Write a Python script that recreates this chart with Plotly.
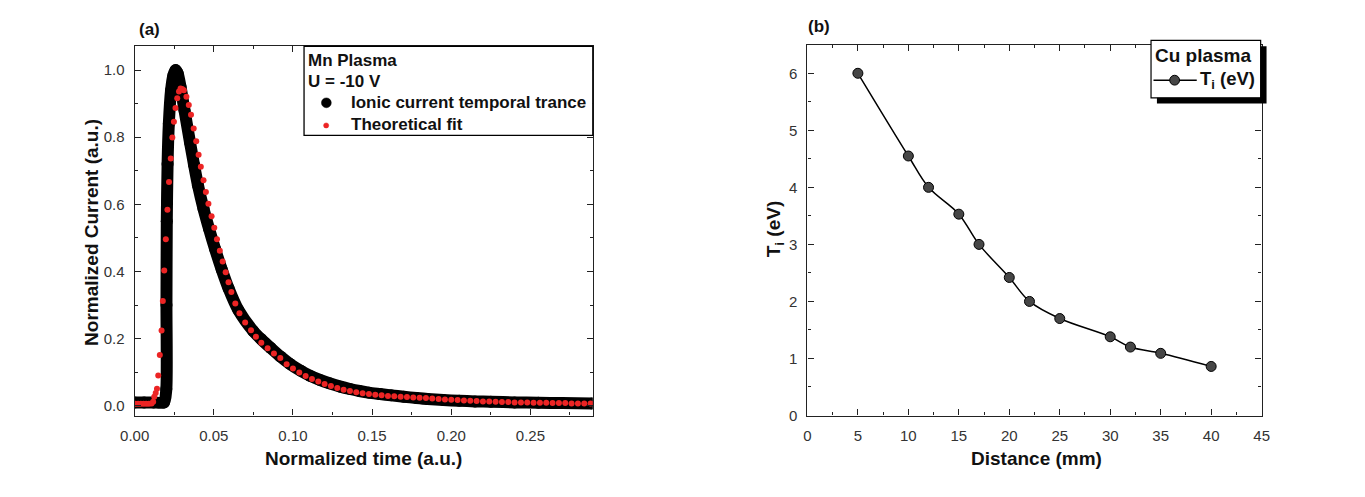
import plotly.graph_objects as go

# ---------------- data ----------------
# Panel (a): ionic current temporal trace (dense black band, centre line)
ion_t = [0.000, 0.006, 0.012, 0.0185, 0.0200, 0.0201, 0.0203, 0.0208, 0.0216, 0.0230,
         0.0245, 0.0258, 0.0272, 0.0290, 0.0315, 0.0350, 0.0375, 0.0400, 0.0435, 0.0470,
         0.0508, 0.0550, 0.0593, 0.0655, 0.0750, 0.0800, 0.0860, 0.0920, 0.0980,
         0.1050, 0.1110, 0.1170, 0.1230, 0.1300, 0.1360, 0.1420, 0.1480, 0.1550, 0.1620,
         0.1700, 0.1780, 0.1850, 0.1950, 0.2050, 0.2150, 0.2250, 0.2400, 0.2550, 0.2700,
         0.2890]
ion_i = [0.010, 0.010, 0.010, 0.010, 0.050, 0.300, 0.550, 0.720, 0.840, 0.940,
         0.985, 1.000, 0.990, 0.950, 0.880, 0.784, 0.718, 0.657, 0.587, 0.527,
         0.467, 0.406, 0.350, 0.285, 0.222, 0.198, 0.172, 0.147, 0.125,
         0.104, 0.089, 0.077, 0.067, 0.057, 0.050, 0.044, 0.039, 0.035, 0.031,
         0.027, 0.023, 0.020, 0.017, 0.015, 0.013, 0.012, 0.010, 0.009, 0.008,
         0.007]

# Panel (a): theoretical fit (red dots)
fit_t = [0.0005, 0.0022, 0.0039, 0.0056, 0.0073, 0.0090, 0.0107, 0.0117, 0.0124, 0.0133,
         0.0141, 0.0149, 0.0159, 0.0170, 0.0178, 0.0187, 0.0197, 0.0207, 0.0217, 0.0228,
         0.0238, 0.0248, 0.0258, 0.0269, 0.0280, 0.0290, 0.0300, 0.0311, 0.0327, 0.0342,
         0.0356, 0.0373, 0.0389, 0.0404, 0.0418, 0.0435, 0.0450, 0.0466, 0.0486, 0.0503,
         0.0520, 0.0538, 0.0556, 0.0575, 0.0593, 0.0611, 0.0636, 0.0662, 0.0698, 0.0735,
         0.0766, 0.080, 0.084, 0.088, 0.092, 0.096, 0.100, 0.104, 0.108, 0.112,
         0.116, 0.120, 0.124, 0.128, 0.132, 0.136, 0.140, 0.144, 0.148, 0.152,
         0.156, 0.160, 0.164, 0.168, 0.172, 0.176, 0.180, 0.184, 0.188, 0.192,
         0.196, 0.200, 0.204, 0.208, 0.212, 0.216, 0.220, 0.224, 0.228, 0.232,
         0.236, 0.240, 0.244, 0.248, 0.252, 0.256, 0.260, 0.264, 0.268, 0.272,
         0.276, 0.280, 0.284, 0.288]
fit_i = [0.006, 0.006, 0.006, 0.006, 0.006, 0.006, 0.007, 0.012, 0.027, 0.038,
         0.051, 0.090, 0.151, 0.224, 0.312, 0.403, 0.496, 0.584, 0.667, 0.737,
         0.799, 0.846, 0.887, 0.916, 0.936, 0.945, 0.944, 0.940, 0.921, 0.896,
         0.867, 0.826, 0.788, 0.748, 0.712, 0.672, 0.637, 0.602, 0.565, 0.530,
         0.496, 0.462, 0.430, 0.398, 0.368, 0.339, 0.305, 0.276, 0.248, 0.225,
         0.206, 0.188, 0.171, 0.156, 0.142, 0.124, 0.111, 0.099, 0.089, 0.080,
         0.072, 0.065, 0.059, 0.053, 0.048, 0.044, 0.040, 0.037, 0.035, 0.033,
         0.031, 0.029, 0.028, 0.027, 0.026, 0.025, 0.024, 0.023, 0.022, 0.020,
         0.019, 0.018, 0.017, 0.016, 0.015, 0.014, 0.013, 0.013, 0.012, 0.011,
         0.011, 0.010, 0.010, 0.010, 0.009, 0.009, 0.009, 0.008, 0.008, 0.008,
         0.007, 0.007, 0.007, 0.007]

# Panel (b): ion temperature vs distance, Cu plasma
dist_mm = [5, 10, 12, 15, 17, 20, 22, 25, 30, 32, 35, 40]
ti_ev = [6.0, 4.55, 4.0, 3.53, 3.0, 2.42, 2.0, 1.7, 1.38, 1.2, 1.09, 0.86]

# legend texts
legend_a_title = ["Mn Plasma", "U = -10 V"]
legend_a_items = ["Ionic current temporal trance", "Theoretical fit"]
legend_b_title = "Cu plasma"
legend_b_item = "T<sub>i</sub> (eV)"

# ---------------- layout helpers ----------------
W, H = 1365, 497


def PX(x):
    return x / W


def PY(y):
    return 1 - y / H


FONT = "Liberation Sans, Arial, sans-serif"
AX = "#222222"
TXT = "#111111"
RED = "rgb(236,36,36)"

base_axis = dict(
    showline=True, linecolor=AX, linewidth=1.3, mirror="ticks",
    ticks="inside", ticklen=6, tickwidth=1.3, tickcolor=AX,
    showgrid=False, zeroline=False,
    tickfont=dict(family=FONT, size=15, color="#333333"),
    ticklabelstandoff=6,
)

fig = go.Figure()

fig.add_trace(go.Scatter(
    x=ion_t, y=ion_i, mode="lines+markers",
    line=dict(color="black", width=12, shape="spline", smoothing=0.7),
    marker=dict(color="black", size=12),
    name="Ionic current temporal trance", showlegend=False,
    xaxis="x", yaxis="y", hoverinfo="skip"))
fig.add_trace(go.Scatter(
    x=fit_t, y=fit_i, mode="markers",
    marker=dict(color=RED, size=6),
    name="Theoretical fit", showlegend=False,
    xaxis="x", yaxis="y"))

fig.add_trace(go.Scatter(
    x=dist_mm, y=ti_ev, mode="lines+markers",
    line=dict(color="black", width=1.5, shape="spline"),
    marker=dict(color="rgb(70,70,70)", size=10, line=dict(color="black", width=1)),
    name="T<sub>i</sub> (eV)", showlegend=False,
    xaxis="x2", yaxis="y2"))

xa = dict(base_axis, domain=[PX(121.7), PX(587.7)], range=[0, 0.2894],
          dtick=0.05, tick0=0, tickformat=".2f", anchor="y",
          minor=dict(ticks="inside", ticklen=3, tickcolor=AX, tickwidth=1, dtick=0.025))
ya = dict(base_axis, domain=[PY(422.3), PY(46.7)], range=[-0.029, 1.072],
          dtick=0.2, tick0=0, tickformat=".1f", anchor="x",
          minor=dict(ticks="inside", ticklen=3, tickcolor=AX, tickwidth=1, dtick=0.1))
xb = dict(base_axis, domain=[PX(806), PX(1268)], range=[0, 45],
          dtick=5, tick0=0, anchor="y2",
          minor=dict(ticks="inside", ticklen=3, tickcolor=AX, tickwidth=1, dtick=2.5))
yb = dict(base_axis, domain=[PY(422.3), PY(45.5)], range=[0, 6.5],
          dtick=1, tick0=0, anchor="x2",
          minor=dict(ticks="inside", ticklen=3, tickcolor=AX, tickwidth=1, dtick=0.5))

title_font = dict(family=FONT, size=19, color=TXT, weight="bold")
leg_font = dict(family=FONT, size=17, color=TXT, weight="bold")


def ann(text, x, y, font, xanchor="center", angle=0):
    return dict(text=text, x=PX(x), y=PY(y), xref="paper", yref="paper",
                xanchor=xanchor, yanchor="middle", showarrow=False,
                textangle=angle, font=font)


annotations = [
    ann("(a)", 137, 30, dict(family=FONT, size=17, color=TXT, weight="bold")),
    ann("(b)", 818, 27, dict(family=FONT, size=17, color=TXT, weight="bold")),
    ann("Normalized time (a.u.)", 354.7, 466, title_font),
    ann("Normalized Current (a.u.)", 77, 236, title_font, angle=-90),
    ann("Distance (mm)", 1039, 466, title_font),
    ann("T<sub>i</sub> (eV)", 773, 232, title_font, angle=-90),
    # legend (a)
    ann(legend_a_title[0], 296, 61, leg_font, xanchor="left"),
    ann(legend_a_title[1], 296, 83, leg_font, xanchor="left"),
    ann(legend_a_items[0], 340, 104.5, leg_font, xanchor="left"),
    ann(legend_a_items[1], 340, 127, leg_font, xanchor="left"),
    # legend (b)
    ann(legend_b_title, 1157, 56, dict(family=FONT, size=19, color=TXT, weight="bold"),
        xanchor="left"),
    ann(legend_b_item, 1203, 81, dict(family=FONT, size=18.5, color=TXT, weight="bold"),
        xanchor="left"),
]


def rect(x0, y0, x1, y1, **kw):
    return dict(type="rect", xref="paper", yref="paper",
                x0=PX(x0), x1=PX(x1), y0=PY(y1), y1=PY(y0), layer="above", **kw)


def circ(cx, cy, r, **kw):
    return dict(type="circle", xref="paper", yref="paper",
                x0=PX(cx - r), x1=PX(cx + r), y0=PY(cy + r), y1=PY(cy - r),
                layer="above", **kw)


shapes = [
    # legend (a) frame and symbols
    rect(294, 47, 587.7, 137.5, fillcolor="white", line=dict(color="black", width=1.3)),
    circ(316.7, 104.5, 5, fillcolor="black", line=dict(color="black", width=0.5)),
    circ(316.5, 127.5, 2.6, fillcolor=RED, line=dict(color=RED, width=0.5)),
    # legend (b) shadow, frame and symbol
    rect(1161.5, 47, 1273, 105.2, fillcolor="black", line=dict(width=0)),
    rect(1155.5, 41, 1267, 99.4, fillcolor="white", line=dict(color="black", width=1.2)),
    dict(type="line", xref="paper", yref="paper", x0=PX(1158), x1=PX(1202),
         y0=PY(81.5), y1=PY(81.5), line=dict(color="black", width=1.5), layer="above"),
    circ(1179.5, 81.5, 5, fillcolor="rgb(70,70,70)", line=dict(color="black", width=1)),
]

fig.update_layout(
    width=W, height=H,
    margin=dict(l=0, r=0, t=0, b=0),
    paper_bgcolor="white", plot_bgcolor="white",
    font=dict(family=FONT, color=TXT),
    xaxis=xa, yaxis=ya, xaxis2=xb, yaxis2=yb,
    annotations=annotations, shapes=shapes,
    showlegend=False,
)

fig.write_html("out.html")
